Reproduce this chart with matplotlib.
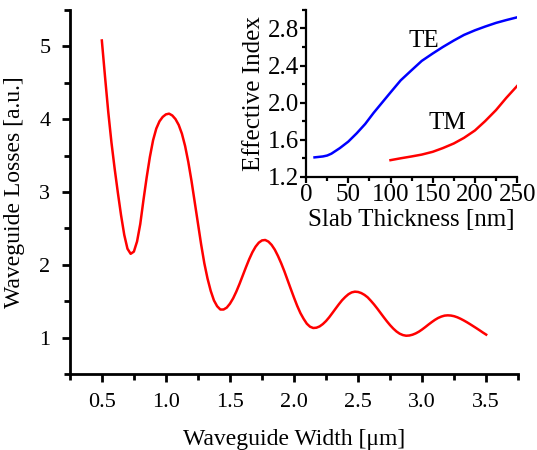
import numpy as np
import matplotlib
matplotlib.use("Agg")
import matplotlib.pyplot as plt
from matplotlib.ticker import MultipleLocator

plt.rcParams["font.family"] = ["Liberation Serif", "DejaVu Serif"]

# perdidas vs ancho de la guia (cada 0.025 um)
ancho = list(np.round(np.arange(0.5, 3.5001, 0.025), 3))
perdidas = [5.08, 4.58, 4.10, 3.68, 3.32, 2.99, 2.68, 2.41, 2.22, 2.15,
            2.18, 2.32, 2.56, 2.89, 3.20, 3.48, 3.71, 3.87, 3.97, 4.03,
            4.065, 4.075, 4.05, 4.00, 3.92, 3.80, 3.63, 3.41, 3.15, 2.86,
            2.57, 2.28, 2.02, 1.81, 1.64, 1.51, 1.43, 1.385, 1.385, 1.411,
            1.465, 1.539, 1.632, 1.738, 1.852, 1.966, 2.075, 2.171, 2.248, 2.303,
            2.334, 2.34, 2.318, 2.273, 2.207, 2.12, 2.02, 1.909, 1.788, 1.667,
            1.548, 1.435, 1.336, 1.257, 1.19, 1.149, 1.131, 1.135, 1.153, 1.185,
            1.227, 1.279, 1.338, 1.398, 1.457, 1.512, 1.557, 1.595, 1.62, 1.63,
            1.626, 1.611, 1.586, 1.552, 1.505, 1.454, 1.398, 1.339, 1.28, 1.223,
            1.17, 1.123, 1.083, 1.053, 1.034, 1.025, 1.028, 1.039, 1.057, 1.081,
            1.111, 1.144, 1.179, 1.212, 1.243, 1.269, 1.288, 1.301, 1.305, 1.302,
            1.293, 1.278, 1.258, 1.235, 1.21, 1.183, 1.155, 1.127, 1.098, 1.068,
            1.04]

# indice efectivo vs espesor de la losa
espesor_te = [10, 15, 20, 25, 30, 35, 40, 45, 50, 60, 70, 80, 90, 100, 112, 125,
              137, 150, 162, 175, 187, 200, 212, 225, 237, 250]
n_te = [1.41, 1.415, 1.42, 1.43, 1.45, 1.48, 1.51, 1.545, 1.58, 1.67, 1.77, 1.89, 2.00,
        2.11, 2.24, 2.35, 2.45, 2.53, 2.60, 2.67, 2.73, 2.78, 2.82, 2.86, 2.89, 2.92]
espesor_tm = [100, 112, 125, 137, 150, 162, 175, 187, 200, 212, 225, 237, 250]
n_tm = [1.38, 1.40, 1.42, 1.44, 1.47, 1.51, 1.56, 1.62, 1.70, 1.80, 1.92, 2.05, 2.18]

fig = plt.figure(figsize=(5.37, 4.5), dpi=100)
ax = fig.add_axes([0.130, 0.169, 0.835, 0.809])
ax.plot(ancho, perdidas, color="#ff0000", lw=1.8)
ax.set_xlim(0.25, 3.75)
ax.set_ylim(0.5, 5.5)
ax.xaxis.set_minor_locator(MultipleLocator(0.25))
ax.yaxis.set_minor_locator(MultipleLocator(0.5))
ax.set_xticks([0.5, 1.0, 1.5, 2.0, 2.5, 3.0, 3.5])
ax.set_xticklabels(["0.5", "1.0", "1.5", "2.0", "2.5", "3.0", "3.5"])
ax.set_yticks([1, 2, 3, 4, 5])
for s in ["top", "right"]:
    ax.spines[s].set_visible(False)
for s in ["left", "bottom"]:
    ax.spines[s].set_linewidth(2)
ax.tick_params(which="major", direction="out", length=6, width=2, labelsize=16, pad=8)
ax.tick_params(which="minor", direction="out", length=4, width=2)
ax.set_xlabel("Waveguide Width [\u03bcm]", fontsize=17, labelpad=12)
ax.set_ylabel("Waveguide Losses [a.u.]", fontsize=17, labelpad=10)

ins = fig.add_axes([0.570, 0.607, 0.393, 0.371])
ins.plot(espesor_te, n_te, color="#0000ff", lw=1.8)
ins.plot(espesor_tm, n_tm, color="#ff0000", lw=1.8)
ins.set_xlim(0, 250)
ins.set_ylim(1.2, 3.0)
ins.xaxis.set_major_locator(MultipleLocator(50))
ins.xaxis.set_minor_locator(MultipleLocator(25))
ins.set_yticks([1.2, 1.6, 2.0, 2.4, 2.8])
ins.yaxis.set_minor_locator(MultipleLocator(0.2))
for s in ["top", "right"]:
    ins.spines[s].set_visible(False)
for s in ["left", "bottom"]:
    ins.spines[s].set_linewidth(1.6)
ins.tick_params(which="major", direction="out", length=4, width=1.6, labelsize=18, pad=1)
ins.tick_params(which="minor", direction="out", length=3, width=1.6)
ins.set_xlabel("Slab Thickness [nm]", fontsize=18, labelpad=2)
ins.set_ylabel("Effective Index", fontsize=18, labelpad=2)
ins.text(139, 2.66, "TE", fontsize=18, ha="center", va="center")
ins.text(167, 1.78, "TM", fontsize=18, ha="center", va="center")

fig.savefig("out.png", dpi=100)
